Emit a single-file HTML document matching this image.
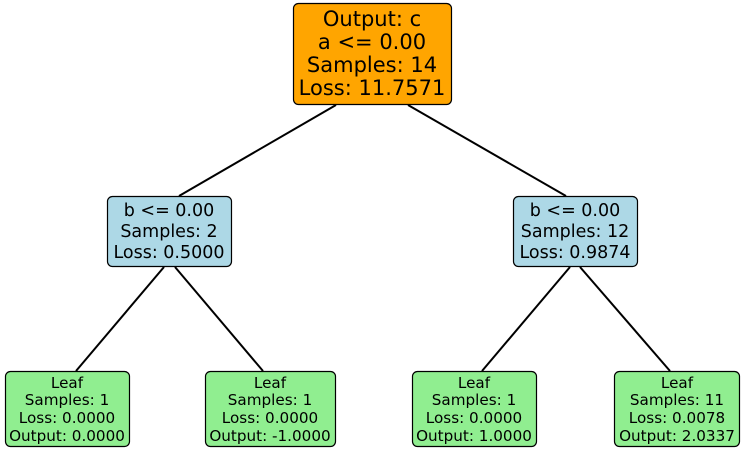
<!DOCTYPE html>
<html><head><meta charset="utf-8"><style>body{margin:0;background:#fff}svg{display:block}</style></head><body>
<svg width="745" height="453" viewBox="0 0 745 453" font-family="DejaVu Sans, Liberation Sans, sans-serif" text-anchor="middle" fill="#000">
<g stroke="#000" stroke-width="2" fill="none">
<line x1="336" y1="105" x2="179" y2="196"/>
<line x1="408" y1="105" x2="566" y2="196"/>
<line x1="164" y1="267" x2="76" y2="371"/>
<line x1="175" y1="267" x2="263" y2="371"/>
<line x1="570" y1="267" x2="482" y2="371"/>
<line x1="580" y1="267" x2="670" y2="371"/>
</g>
<g stroke="#000" stroke-width="1.2">
<rect x="293.5" y="3.5" width="158" height="101" rx="5" fill="#ffa500"/>
<rect x="107.5" y="196.5" width="124" height="70" rx="5" fill="#add8e6"/>
<rect x="513.5" y="196.5" width="124" height="70" rx="5" fill="#add8e6"/>
<rect x="5.5" y="371.5" width="124" height="75" rx="5" fill="#90ee90"/>
<rect x="205.5" y="371.5" width="130" height="75" rx="5" fill="#90ee90"/>
<rect x="412.5" y="371.5" width="124" height="75" rx="5" fill="#90ee90"/>
<rect x="614.5" y="371.5" width="125" height="75" rx="5" fill="#90ee90"/>
</g>
<g font-size="21">
<text x="372" y="26">Output: c</text><text x="372" y="49">a &lt;= 0.00</text><text x="372" y="72">Samples: 14</text><text x="372" y="95">Loss: 11.7571</text>
</g>
<g font-size="17.5">
<text x="169" y="216">b &lt;= 0.00</text><text x="169" y="237">Samples: 2</text><text x="169" y="258">Loss: 0.5000</text>
<text x="575" y="216">b &lt;= 0.00</text><text x="575" y="237">Samples: 12</text><text x="575" y="258">Loss: 0.9874</text>
</g>
<g font-size="15.2">
<text x="67" y="388">Leaf</text><text x="67" y="405">Samples: 1</text><text x="67" y="423">Loss: 0.0000</text><text x="67" y="441">Output: 0.0000</text>
<text x="270" y="388">Leaf</text><text x="270" y="405">Samples: 1</text><text x="270" y="423">Loss: 0.0000</text><text x="270" y="441">Output: -1.0000</text>
<text x="474" y="388">Leaf</text><text x="474" y="405">Samples: 1</text><text x="474" y="423">Loss: 0.0000</text><text x="474" y="441">Output: 1.0000</text>
<text x="677" y="388">Leaf</text><text x="677" y="405">Samples: 11</text><text x="677" y="423">Loss: 0.0078</text><text x="677" y="441">Output: 2.0337</text>
</g>
</svg>
</body></html>
